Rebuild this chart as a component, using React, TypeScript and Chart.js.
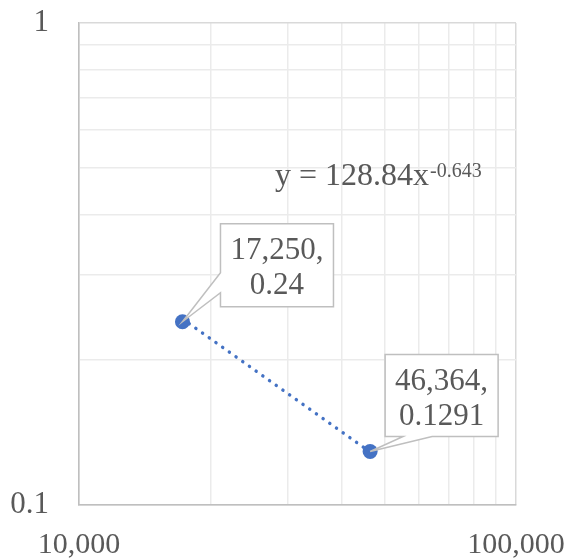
import React, { useEffect, useRef } from 'react';
import { Chart, registerables } from 'chart.js';

Chart.register(...registerables);

// ---- data ----
const xValues = [17250, 46364];
const yValues = [0.24, 0.1291];
const pointLabelLine1 = ['17,250,', '46,364,'];
const pointLabelLine2 = ['0.24', '0.1291'];
const trendX = [17250, 46364];
const trendY = [0.2433, 0.1288];
const xGridValues = [10000, 20000, 30000, 40000, 50000, 60000, 70000, 80000, 90000, 100000];
const yGridValues = [0.1, 0.2, 0.3, 0.4, 0.5, 0.6, 0.7, 0.8, 0.9, 1];
const xTickValues = [10000, 100000];
const xTickLabels = ['10,000', '100,000'];
const yTickValues = [0.1, 1];
const yTickLabels = ['0.1', '1'];
const equationMain = 'y = 128.84x';
const equationExp = '-0.643';

const TEXT = '#595959';
const BLUE = '#4472C4';
const FONT = '"Liberation Serif", "Times New Roman", serif';

function isPow10(v: number) {
  const l = Math.log10(v);
  return Math.abs(l - Math.round(l)) < 1e-6;
}

function findLabel(v: number, vals: number[], labels: string[]) {
  for (let i = 0; i < vals.length; i++) {
    if (Math.abs(v - vals[i]) / vals[i] < 1e-6) return labels[i];
  }
  return '';
}

// callout geometry (box offset relative to point, pointer attachment)
const calloutStyles = [
  { dx: 38, dy: -98, w: 113, h: 83, side: 'left', a: 49, b: 69 },
  { dx: 15, dy: -97, w: 113, h: 82, side: 'bottom', a: 18, b: 47 },
];

const overlayPlugin = {
  id: 'overlay',
  afterDatasetsDraw(chart: any) {
    const ctx = chart.ctx as CanvasRenderingContext2D;
    const xs = chart.scales.x;
    const ys = chart.scales.y;
    const area = chart.chartArea;

    // equation
    ctx.save();
    ctx.fillStyle = TEXT;
    ctx.textBaseline = 'alphabetic';
    ctx.textAlign = 'left';
    ctx.font = `32px ${FONT}`;
    const ex = area.left + 196;
    const ey = area.top + 162;
    ctx.fillText(equationMain, ex, ey);
    const mw = ctx.measureText(equationMain).width;
    ctx.font = `20px ${FONT}`;
    ctx.fillText(equationExp, ex + mw + 1, ey - 8);
    ctx.restore();

    // callouts
    for (let i = 0; i < xValues.length; i++) {
      const px = xs.getPixelForValue(xValues[i]);
      const py = ys.getPixelForValue(yValues[i]);
      const s = calloutStyles[i];
      const L = px + s.dx;
      const T = py + s.dy;
      const R = L + s.w;
      const B = T + s.h;
      ctx.save();
      ctx.beginPath();
      if (s.side === 'left') {
        ctx.moveTo(L, T);
        ctx.lineTo(R, T);
        ctx.lineTo(R, B);
        ctx.lineTo(L, B);
        ctx.lineTo(L, T + s.b);
        ctx.lineTo(px, py);
        ctx.lineTo(L, T + s.a);
        ctx.closePath();
      } else {
        ctx.moveTo(L, T);
        ctx.lineTo(R, T);
        ctx.lineTo(R, B);
        ctx.lineTo(L + s.b, B);
        ctx.lineTo(px, py);
        ctx.lineTo(L + s.a, B);
        ctx.lineTo(L, B);
        ctx.closePath();
      }
      ctx.fillStyle = '#FFFFFF';
      ctx.fill();
      ctx.strokeStyle = '#BFBFBF';
      ctx.lineWidth = 1.5;
      ctx.lineJoin = 'miter';
      ctx.stroke();

      ctx.fillStyle = TEXT;
      ctx.font = `31px ${FONT}`;
      ctx.textAlign = 'center';
      ctx.textBaseline = 'alphabetic';
      const cx = (L + R) / 2;
      const cy = (T + B) / 2;
      ctx.fillText(pointLabelLine1[i], cx, cy - 6);
      ctx.fillText(pointLabelLine2[i], cx, cy + 29);
      ctx.restore();
    }
  },
};

function zeroPadding(scale: any) {
  scale.paddingTop = 0;
  scale.paddingBottom = 0;
  scale.paddingLeft = 0;
  scale.paddingRight = 0;
}

export default function App() {
  const ref = useRef<HTMLCanvasElement | null>(null);

  useEffect(() => {
    document.body.style.margin = '0';
    const canvas = ref.current;
    if (!canvas) return;
    const gridColor = (c: any) => (c.tick && isPow10(c.tick.value) ? '#D9D9D9' : '#EBEBEB');
    const chart = new Chart(canvas, {
      type: 'scatter',
      data: {
        datasets: [
          {
            type: 'scatter',
            data: xValues.map((x, i) => ({ x, y: yValues[i] })),
            backgroundColor: BLUE,
            borderColor: BLUE,
            pointRadius: 7.5,
            pointHoverRadius: 7.5,
            borderWidth: 0,
            order: 1,
          },
          {
            type: 'line',
            data: trendX.map((x, i) => ({ x, y: trendY[i] })),
            borderColor: BLUE,
            borderWidth: 3.5,
            borderDash: [0.01, 8.2],
            borderCapStyle: 'round',
            pointRadius: 0,
            fill: false,
            tension: 0,
            order: 2,
          } as any,
        ],
      },
      options: {
        responsive: false,
        animation: false,
        devicePixelRatio: 1,
        layout: { padding: { top: 23, right: 52, bottom: 0, left: 0 } },
        plugins: {
          legend: { display: false },
          tooltip: { enabled: false },
          title: { display: false },
        },
        scales: {
          x: {
            type: 'logarithmic',
            position: 'bottom',
            min: 10000,
            max: 100000,
            afterBuildTicks: (scale: any) => {
              scale.ticks = xGridValues.map((v) => ({ value: v }));
            },
            afterFit: (scale: any) => {
              scale.height = 54;
              zeroPadding(scale);
            },
            border: { display: true, color: '#BFBFBF', width: 1.5 },
            grid: {
              drawTicks: false,
              lineWidth: 1.5,
              color: gridColor,
            },
            ticks: {
              autoSkip: false,
              maxRotation: 0,
              minRotation: 0,
              padding: 22,
              color: TEXT,
              font: { family: FONT, size: 30 },
              callback: (v: any) => findLabel(Number(v), xTickValues, xTickLabels),
            },
          },
          y: {
            type: 'logarithmic',
            position: 'left',
            min: 0.1,
            max: 1,
            afterBuildTicks: (scale: any) => {
              scale.ticks = yGridValues.map((v) => ({ value: v }));
            },
            afterFit: (scale: any) => {
              scale.width = 79;
              zeroPadding(scale);
            },
            border: { display: true, color: '#BFBFBF', width: 1.5 },
            grid: {
              drawTicks: false,
              lineWidth: 1.5,
              color: gridColor,
            },
            ticks: {
              autoSkip: false,
              padding: 30,
              color: TEXT,
              font: { family: FONT, size: 31 },
              callback: (v: any) => findLabel(Number(v), yTickValues, yTickLabels),
            },
          },
        },
      },
      plugins: [overlayPlugin],
    } as any);
    return () => chart.destroy();
  }, []);

  return (
    <div style={{ width: 568, height: 559, background: '#FFFFFF' }}>
      <canvas ref={ref} width={568} height={559} style={{ display: 'block' }} />
    </div>
  );
}
